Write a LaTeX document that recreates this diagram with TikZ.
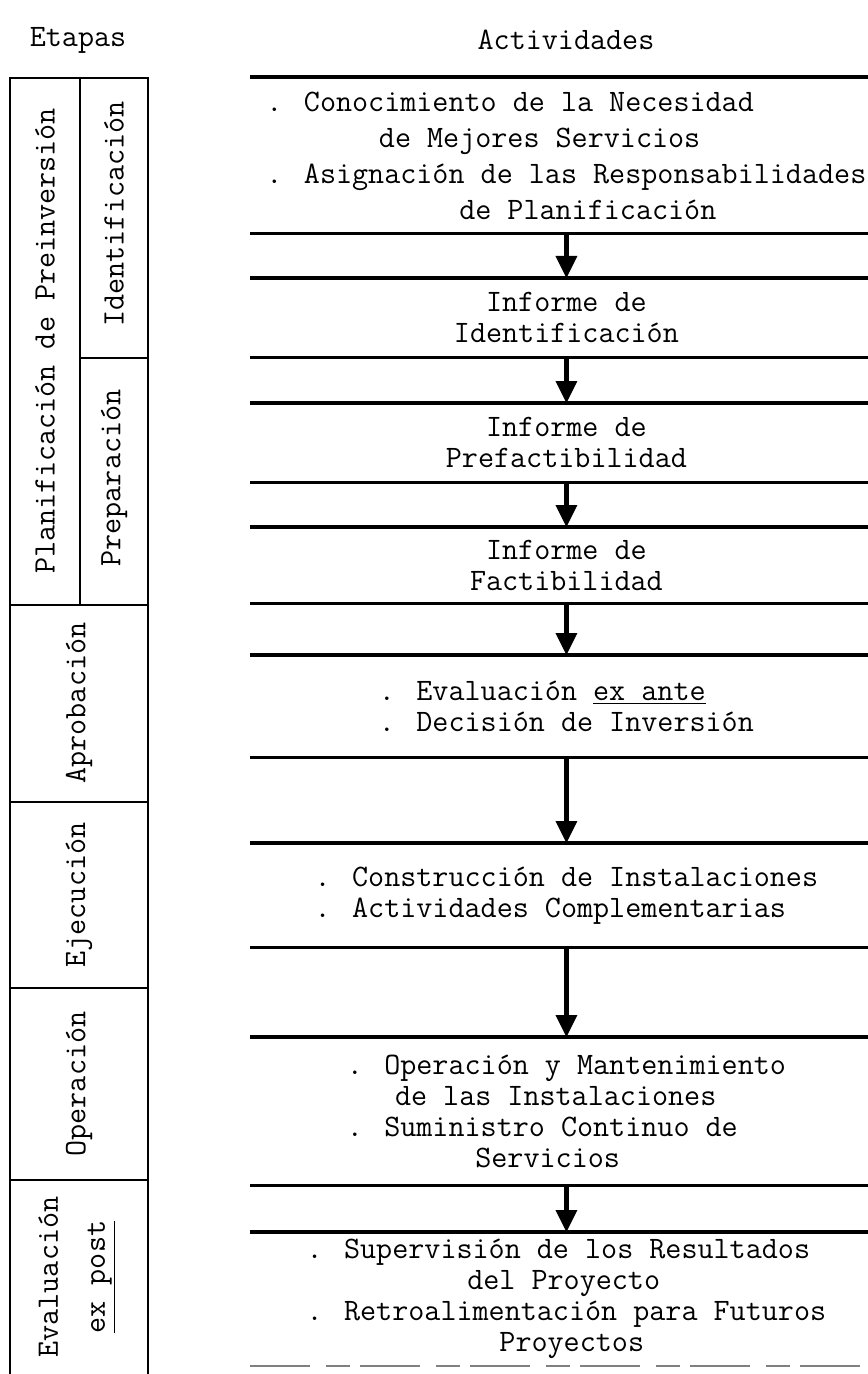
\documentclass[tikz,border=0pt]{standalone}
\usepackage{fontspec}
\usetikzlibrary{arrows.meta}
\newcommand\ind[1]{\hspace*{#1\fontcharwd\font`x}}
\tikzset{
  txt/.style={font=\ttfamily\fontsize{15.6}{15.5}\selectfont, inner sep=0pt},
  etapa/.style={txt, rotate=90},
  marco/.style={line width=1.4pt},
  regla/.style={line width=1.6pt},
  flecha/.style={line width=2.5pt, -{Triangle[width=11pt,length=11pt,line width=0pt]}},
  bloque/.style={txt, minimum width=316pt, anchor=north west}
}
\begin{document}
\begin{tikzpicture}[x=0.5pt,y=-0.5pt]
\useasboundingbox (0,0) rectangle (867,1374);
\node[txt] (etapas) at (78,40) {Etapas};
\node[txt] (activ) at (566,40) {Actividades};
\draw[marco] (10,1374)--(10,78)--(148,78)--(148,1374);
\draw[line width=1pt] (80,78)--(80,605);
\draw[marco] (80,358)--(148,358);
\foreach \y in {605,802,988,1180} \draw[marco] (10,\y)--(148,\y);
\node[etapa] (planif) at (45,341) {Planificación de Preinversión};
\node[etapa] (ident) at (114,214) {Identificación};
\node[etapa] (prep) at (114,478) {Preparación};
\node[etapa] (aprob) at (79,703) {Aprobación};
\node[etapa] (ejec) at (79,895) {Ejecución};
\node[etapa] (oper) at (79,1084) {Operación};
\node[etapa, align=center] (evpost) at (77,1277) {Evaluación\\[8pt]\underline{ex post}};
\node[bloque, minimum height=78pt, align=left, font=\ttfamily\fontsize{15.6}{18}\selectfont] (b1) at (250,77)
  {. Conocimiento de la Necesidad\\ \ind{7}de Mejores Servicios\\. Asignación de las Responsabilidades\\ \ind{12}de Planificación};
\node[bloque, minimum height=39.5pt, align=center] (b2) at (250,278) {Informe de\\Identificación};
\node[bloque, minimum height=39.5pt, align=center] (b3) at (250,403) {Informe de\\Prefactibilidad};
\node[bloque, minimum height=38pt, align=center] (b4) at (250,527) {Informe de\\Factibilidad};
\node[bloque, minimum height=51pt, align=left] (b5) at (250,655)
  {. Evaluación \underline{ex ante}\\. Decisión de Inversión};
\node[bloque, minimum height=52pt, align=left] (b6) at (250,843)
  {. Construcción de Instalaciones\\. Actividades Complementarias};
\node[bloque, minimum height=74pt, align=left] (b7) at (250,1037)
  {. Operación y Mantenimiento\\ \ind{3}de las Instalaciones\\. Suministro Continuo de\\ \ind{8}Servicios};
\node[bloque, minimum height=66.5pt, align=left] (b8) at (250,1232)
  {. Supervisión de los Resultados\\ \ind{10}del Proyecto\\. Retroalimentación para Futuros\\ \ind{12}Proyectos};
\foreach \b in {b1,b2,b3,b4,b5,b6,b7} \draw[regla] (\b.north west)--(\b.north east) (\b.south west)--(\b.south east);
\draw[regla] (b8.north west)--(b8.north east);
\draw[line width=1pt, gray, dash pattern=on 30pt off 8pt on 12pt off 5pt] (b8.south west)--(b8.south east);
\foreach \a/\b in {b1/b2,b2/b3,b3/b4,b4/b5,b5/b6,b6/b7,b7/b8} \draw[flecha] (\a.south)--(\b.north);
\end{tikzpicture}
\end{document}
